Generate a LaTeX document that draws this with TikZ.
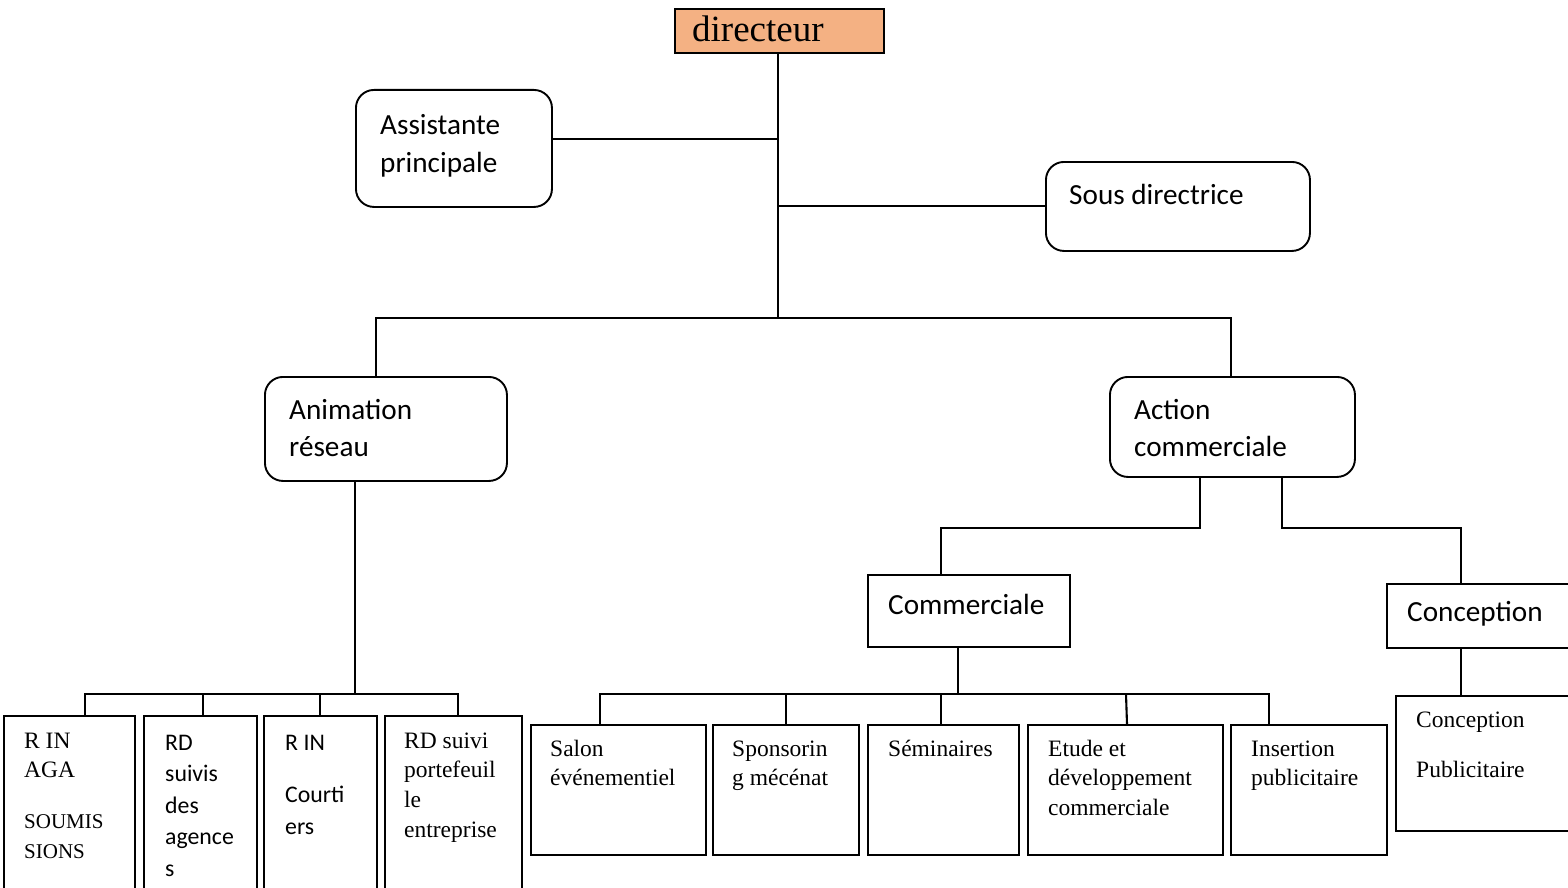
\documentclass[tikz,border=0pt]{standalone}
\usepackage{fontspec}
\setmainfont{Liberation Serif}
\newfontfamily\calib{Carlito}
\usetikzlibrary{calc}

\tikzset{
  rbox/.style={draw, line width=1.9pt, rounded corners=18pt, inner sep=0pt, anchor=north west},
  sbox/.style={draw, line width=2pt, inner sep=0pt, anchor=north west},
  link/.style={line width=2.1pt},
  txt/.style={anchor=base west, inner sep=0pt},
  cbig/.style={font=\calib\fontsize{29.2}{37.5}\selectfont},
  csmall/.style={font=\calib\fontsize{23.8}{31.5}\selectfont},
  tsmall/.style={font=\fontsize{23.5}{29.7}\selectfont},
}
\newcommand\lns[1]{\begin{tabular}[t]{@{}l@{}}#1\end{tabular}}

\begin{document}
\begin{tikzpicture}[x=1pt,y=-1pt]
\useasboundingbox (0,0) rectangle (1568,888);
\clip (0,0) rectangle (1568,888);

% --- top of the chart
\node[sbox, fill={rgb,255:red,244;green,177;blue,131}, minimum width=209, minimum height=44] (dir) at (674,8) {};
\node[txt, font=\fontsize{37}{40}\selectfont] (t-dir) at (692,42) {directeur};

\node[rbox, minimum width=196, minimum height=117] (asst) at (355,89) {};
\node[txt, cbig] (t-asst) at (380,135) {\lns{Assistante\\principale}};

\node[rbox, minimum width=264, minimum height=89] (sous) at (1045,161) {};
\node[txt, cbig] (t-sous) at (1069,204) {Sous directrice};

\coordinate (jtop) at (778,318);
\draw[link] (dir.south -| jtop) -- (jtop);
\draw[link] (asst.east |- 0,139) -- (jtop |- 0,139);
\draw[link] (sous.west |- 0,206) -- (jtop |- 0,206);

% --- second level
\node[rbox, minimum width=242, minimum height=104] (anim) at (264,376) {};
\node[txt, cbig] (t-anim) at (289,419) {\lns{Animation\\réseau}};

\node[rbox, minimum width=245, minimum height=100] (act) at (1109,376) {};
\node[txt, cbig] (t-act) at (1134,419) {\lns{Action\\commerciale}};

\draw[link] (anim.north -| 376,0) |- (jtop) -| (act.north -| 1231,0);

% --- third level on the right
\node[sbox, minimum width=202, minimum height=72] (comm) at (867,574) {};
\node[txt, cbig] (t-comm) at (888,614) {Commerciale};

\node[sbox, minimum width=200, minimum height=64] (conc) at (1386,583) {};
\node[txt, cbig] (t-conc) at (1407,621) {Conception};

\coordinate (jcomm) at (941,528);
\coordinate (jconc) at (1461,528);
\draw[link] (act.south -| 1200,0) |- (jcomm) -- (jcomm |- comm.north);
\draw[link] (act.south -| 1282,0) |- (jconc) -- (jconc |- conc.north);

\node[sbox, minimum width=190, minimum height=135] (cpub) at (1395,695) {};
\node[txt, tsmall] (t-cpub) at (1416,727) {\lns{Conception\\[21pt]Publicitaire}};
\draw[link] (jconc |- conc.south) -- (jconc |- cpub.north);

% --- children of Commerciale
\node[sbox, minimum width=175, minimum height=130] (salon) at (530,724) {};
\node[sbox, minimum width=146, minimum height=130] (spons) at (712,724) {};
\node[sbox, minimum width=151, minimum height=130] (semi) at (867,724) {};
\node[sbox, minimum width=195, minimum height=130] (etude) at (1027,724) {};
\node[sbox, minimum width=156, minimum height=130] (insert) at (1230,724) {};

\node[txt, tsmall] (t-salon) at (550,756) {\lns{Salon\\événementiel}};
\node[txt, tsmall] (t-spons) at (732,756) {\lns{Sponsorin\\g mécénat}};
\node[txt, tsmall] (t-semi) at (888,756) {Séminaires};
\node[txt, tsmall] (t-etude) at (1048,756) {\lns{Etude et\\développement\\commerciale}};
\node[txt, tsmall] (t-insert) at (1251,756) {\lns{Insertion\\publicitaire}};

\coordinate (hc) at (958,694);
\draw[link] (hc |- comm.south) -- (hc);
\draw[link] (salon.north -| 600,0) |- (hc) -| (insert.north -| 1269,0);
\draw[link] (786,694) -- (spons.north -| 786,0);
\draw[link] (941,694) -- (semi.north -| 941,0);
\draw[link] (1126,694) -- (etude.north -| 1127,0);

% --- children of Animation réseau
\node[sbox, minimum width=131, minimum height=190] (rin) at (3,715) {};
\node[sbox, minimum width=113, minimum height=190] (rdag) at (143,715) {};
\node[sbox, minimum width=113, minimum height=190] (rco) at (263,715) {};
\node[sbox, minimum width=137, minimum height=190] (rdpf) at (384,715) {};

\node[txt, tsmall] (t-rin) at (24,748)
  {\lns{R IN\\AGA\\[21pt]{\fontsize{21}{27}\selectfont SOUMIS}\\{\fontsize{21}{27}\selectfont SIONS}}};
\node[txt, csmall] (t-rdag) at (165,750) {\lns{RD\\suivis\\des\\agence\\s}};
\node[txt, csmall] (t-rco) at (285,750) {\lns{R IN\\[21pt]Courti\\ers}};
\node[txt, tsmall] (t-rdpf) at (404,748) {\lns{RD suivi\\portefeuil\\le\\entreprise}};

\coordinate (ha) at (355,694);
\draw[link] (ha |- anim.south) -- (ha);
\draw[link] (rin.north -| 85,0) |- (ha) -| (rdpf.north -| 458,0);
\draw[link] (203,694) -- (rdag.north -| 203,0);
\draw[link] (320,694) -- (rco.north -| 320,0);
\end{tikzpicture}
\end{document}
